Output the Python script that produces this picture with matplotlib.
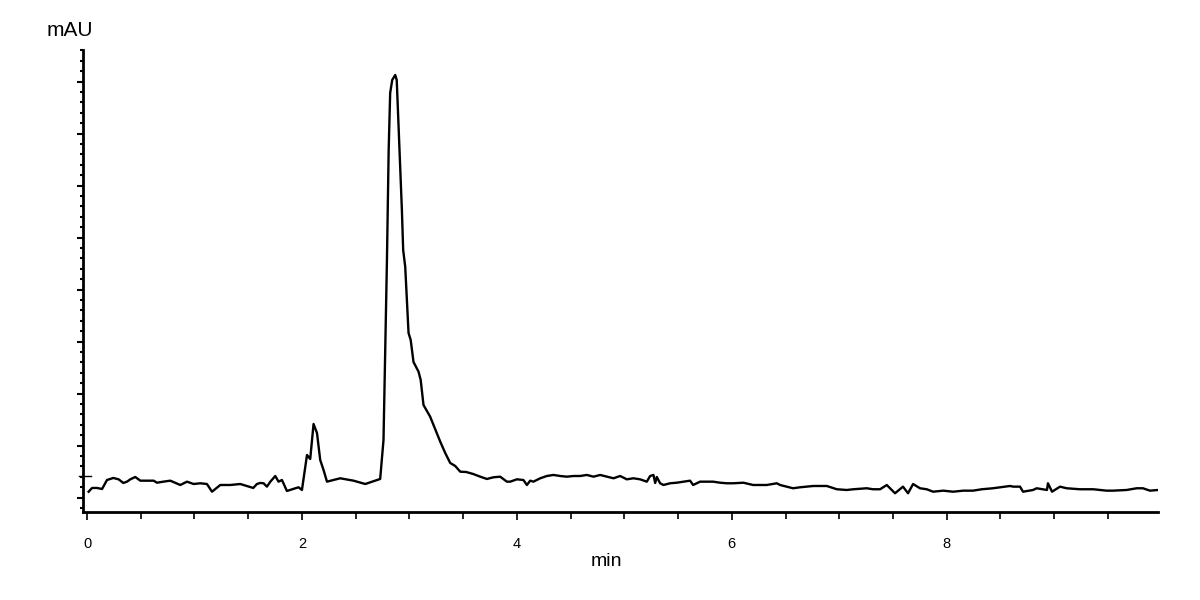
import matplotlib
matplotlib.use("Agg")
import matplotlib.pyplot as plt
from matplotlib.ticker import MultipleLocator, NullFormatter

plt.rcParams['font.family'] = ['Liberation Sans', 'DejaVu Sans']

# retention time (min) and detector signal (mAU)
time_min = [0.015, 0.047, 0.093, 0.140, 0.186, 0.245, 0.294, 0.338, 0.372, 0.403,
            0.449, 0.496, 0.558, 0.620, 0.651, 0.710, 0.775, 0.868, 0.899, 0.930,
            0.992, 1.054, 1.116, 1.163, 1.240, 1.271, 1.333, 1.426, 1.488, 1.547,
            1.581, 1.612, 1.643, 1.674, 1.706, 1.752, 1.782, 1.814, 1.860, 1.968,
            2.000, 2.047, 2.077, 2.108, 2.140, 2.170, 2.201, 2.233, 2.356, 2.480,
            2.589, 2.728, 2.759, 2.791, 2.807, 2.821, 2.840, 2.868, 2.882, 2.899,
            2.930, 2.942, 2.961, 2.992, 3.012, 3.038, 3.085, 3.105, 3.131, 3.193,
            3.256, 3.287, 3.333, 3.380, 3.426, 3.473, 3.528, 3.593, 3.659, 3.721,
            3.782, 3.845, 3.907, 3.938, 4.000, 4.061, 4.093, 4.124, 4.154, 4.217,
            4.279, 4.340, 4.403, 4.465, 4.527, 4.589, 4.651, 4.713, 4.775, 4.837,
            4.899, 4.961, 5.023, 5.085, 5.147, 5.209, 5.240, 5.271, 5.287, 5.302,
            5.333, 5.364, 5.426, 5.488, 5.550, 5.612, 5.640, 5.674, 5.705, 5.826,
            5.891, 5.953, 6.012, 6.108, 6.198, 6.326, 6.419, 6.449, 6.570, 6.635,
            6.759, 6.821, 6.884, 6.977, 7.070, 7.131, 7.256, 7.314, 7.380, 7.442,
            7.519, 7.593, 7.640, 7.687, 7.751, 7.814, 7.873, 7.968, 8.059, 8.154,
            8.245, 8.326, 8.430, 8.496, 8.589, 8.619, 8.682, 8.710, 8.803, 8.837,
            8.933, 8.942, 8.980, 9.054, 9.116, 9.240, 9.364, 9.488, 9.547, 9.674,
            9.767, 9.826, 9.891, 9.966]
signal_mau = [1.15, 1.87, 1.87, 1.67, 3.40, 3.79, 3.53, 2.83, 3.08, 3.53,
              3.98, 3.27, 3.27, 3.27, 2.88, 3.08, 3.27, 2.44, 2.77, 3.08,
              2.63, 2.77, 2.63, 1.15, 2.44, 2.44, 2.44, 2.63, 2.25, 1.87,
              2.63, 2.83, 2.77, 2.12, 3.08, 4.17, 3.08, 3.40, 1.29, 2.00,
              1.48, 8.21, 7.44, 14.17, 12.44, 7.25, 5.33, 3.08, 3.73, 3.27,
              2.63, 3.60, 11.10, 45.71, 66.87, 77.83, 80.33, 81.29, 80.33, 71.35,
              55.33, 47.63, 44.42, 31.67, 30.33, 26.10, 24.23, 22.63, 17.83, 15.58,
              12.38, 10.77, 8.60, 6.67, 6.10, 5.00, 4.94, 4.56, 4.04, 3.60,
              3.92, 4.04, 3.08, 3.08, 3.53, 3.40, 2.44, 3.27, 3.08, 3.73,
              4.17, 4.37, 4.17, 4.04, 4.17, 4.17, 4.37, 4.04, 4.37, 4.04,
              3.73, 4.17, 3.53, 3.73, 3.53, 3.08, 4.17, 4.37, 2.83, 3.98,
              2.77, 2.44, 2.77, 2.88, 3.08, 3.27, 2.44, 2.77, 3.08, 3.08,
              2.88, 2.77, 2.77, 2.88, 2.44, 2.44, 2.77, 2.44, 1.81, 2.00,
              2.25, 2.25, 2.25, 1.62, 1.48, 1.62, 1.81, 1.62, 1.62, 2.44,
              0.85, 2.12, 0.85, 2.63, 1.81, 1.62, 1.15, 1.35, 1.15, 1.35,
              1.35, 1.62, 1.81, 2.00, 2.25, 2.12, 2.12, 1.15, 1.48, 1.81,
              1.48, 2.77, 1.15, 2.12, 1.81, 1.62, 1.62, 1.35, 1.35, 1.48,
              1.81, 1.81, 1.35, 1.48]

x_major = [0, 2, 4, 6, 8]
x_labels = ['0', '2', '4', '6', '8']
baseline_level = 4.17

fig = plt.figure(figsize=(12, 6), dpi=100)
ax = fig.add_axes([0.0692, 0.1467, 0.8958, 0.77])

ax.plot(time_min, signal_mau, color='black', lw=1.7)

ax.set_xlim(-0.037, 9.966)
ax.set_ylim(-2.75, 86.1)

for s in ['top', 'right']:
    ax.spines[s].set_visible(False)
for s in ['left', 'bottom']:
    ax.spines[s].set_linewidth(2)

ax.set_xticks(x_major)
ax.set_xticklabels(x_labels, fontsize=10.5)
ax.xaxis.set_minor_locator(MultipleLocator(0.5))
ax.tick_params(axis='x', which='major', direction='out', length=6, width=1.2, pad=12)
ax.tick_params(axis='x', which='minor', direction='out', length=5, width=1.2)

ax.yaxis.set_major_locator(MultipleLocator(10))
ax.yaxis.set_minor_locator(MultipleLocator(2))
ax.yaxis.set_major_formatter(NullFormatter())
ax.tick_params(axis='y', which='major', direction='out', length=4, width=1.5)
ax.tick_params(axis='y', which='minor', direction='out', length=2, width=1.5)

# short inward reference tick at the baseline
ax.axhline(baseline_level, xmin=-0.004, xmax=0.007, color='black', lw=1, clip_on=False)

ax.set_xlabel('min', fontsize=14)
ax.xaxis.set_label_coords(0.4865, -0.089)
fig.text(0.039, 0.94, 'mAU', fontsize=15)

fig.savefig('out.png', dpi=100)
